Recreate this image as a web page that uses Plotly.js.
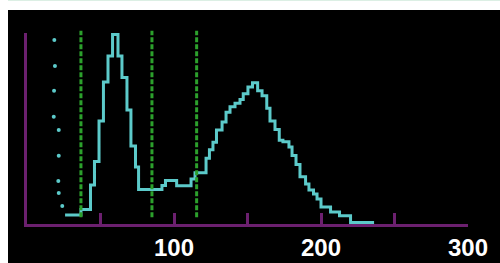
<!DOCTYPE html>
<html>
<head>
<meta charset="utf-8">
<script src="https://cdn.plot.ly/plotly-3.0.1.min.js"></script>
<style>
  html, body { margin: 0; padding: 0; background: #ffffff; width: 500px; height: 263px; overflow: hidden; }
  #topline { position: absolute; left: 8px; top: 0; width: 492px; height: 1px; background: #dcefe4; }
  #chart { position: absolute; left: 8px; top: 10px; width: 492px; height: 253px; }
</style>
</head>
<body>
<div id="topline"></div>
<div id="chart"></div>
<script>
// Histogram bin edges (x) and heights
const binEdges = [25.9, 36.7, 43.2, 45.9, 49.0, 52.0, 55.1, 58.2, 61.9, 64.6, 68.0, 70.7, 73.8, 75.9,
  91.8, 94.2, 101.8, 111.6, 114.3, 121.8, 124.1, 126.5, 128.9, 132.7, 135.4, 138.1, 141.5, 144.9,
  147.1, 150.3, 153.4, 156.9, 159.9, 163.1, 165.3, 168.7, 171.6, 174.1, 178.2, 180.3, 183.0, 185.7,
  189.5, 191.8, 194.9, 197.3, 200.0, 206.5, 212.6, 220.1, 236.1];
const binHeights = [9, 14.5, 39, 62.5, 103, 142, 168, 189.5, 168, 146.5, 114, 78, 57,
  34.5, 38.5, 43.5, 38.3, 45, 51.3, 65.7, 74.3, 81.7, 94, 102, 111.7, 117.3, 120.7,
  124.5, 130.3, 137, 141.3, 133.3, 128.2, 115.8, 103, 94.5, 83.7, 82.3, 77, 68.5, 59.5,
  47.3, 40, 34, 30, 25, 17, 12, 8.3, 1.4];

// Scattered dots at the left
const dotX = [18.6, 19.0, 18.4, 18.2, 21.6, 21.6, 21.3, 21.6, 24.0];
const dotY = [184, 158, 133.3, 107.3, 94, 68.3, 43, 31, 18];

// Vertical dashed reference lines
const refLines = [36.7, 85.0, 115.4];

// Axis ticks
const tickVals = [50, 100, 150, 200, 250, 300];
const tickText = ['', '100', '', '200', '', '300'];

const cyan = '#5ccaca';
const purple = '#6c206f';
const green = '#2ca02c';

const stepY = binHeights.concat([binHeights[binHeights.length - 1]]);

const traces = [
  {
    x: binEdges, y: stepY, type: 'scatter', mode: 'lines',
    line: { shape: 'hv', color: cyan, width: 3 },
    hoverinfo: 'skip'
  },
  {
    x: dotX, y: dotY, type: 'scatter', mode: 'markers',
    marker: { color: cyan, size: 4 },
    hoverinfo: 'skip'
  }
];

const shapes = refLines.map(v => ({
  type: 'line', xref: 'x', yref: 'paper', x0: v, x1: v, y0: 0.035, y1: 1.012,
  line: { color: green, width: 3, dash: '5px,2px' }, layer: 'above'
}));

const layout = {
  width: 492, height: 253,
  paper_bgcolor: '#000000', plot_bgcolor: '#000000',
  margin: { l: 19, r: 32, t: 23, b: 39, pad: 0 },
  showlegend: false,
  xaxis: {
    range: [0, 300], showgrid: false, zeroline: false,
    showline: true, linecolor: purple, linewidth: 3,
    ticks: 'inside', ticklen: 11, tickwidth: 3, tickcolor: purple,
    tickvals: tickVals, ticktext: tickText,
    tickfont: { family: 'Liberation Sans, Arial, sans-serif', size: 24, color: '#ffffff', weight: 'bold' }
  },
  yaxis: {
    range: [0, 191], showgrid: false, zeroline: false,
    showline: true, linecolor: purple, linewidth: 3,
    ticks: '', showticklabels: false
  },
  shapes: shapes
};

Plotly.newPlot('chart', traces, layout, { displayModeBar: false, staticPlot: true });
</script>
</body>
</html>
